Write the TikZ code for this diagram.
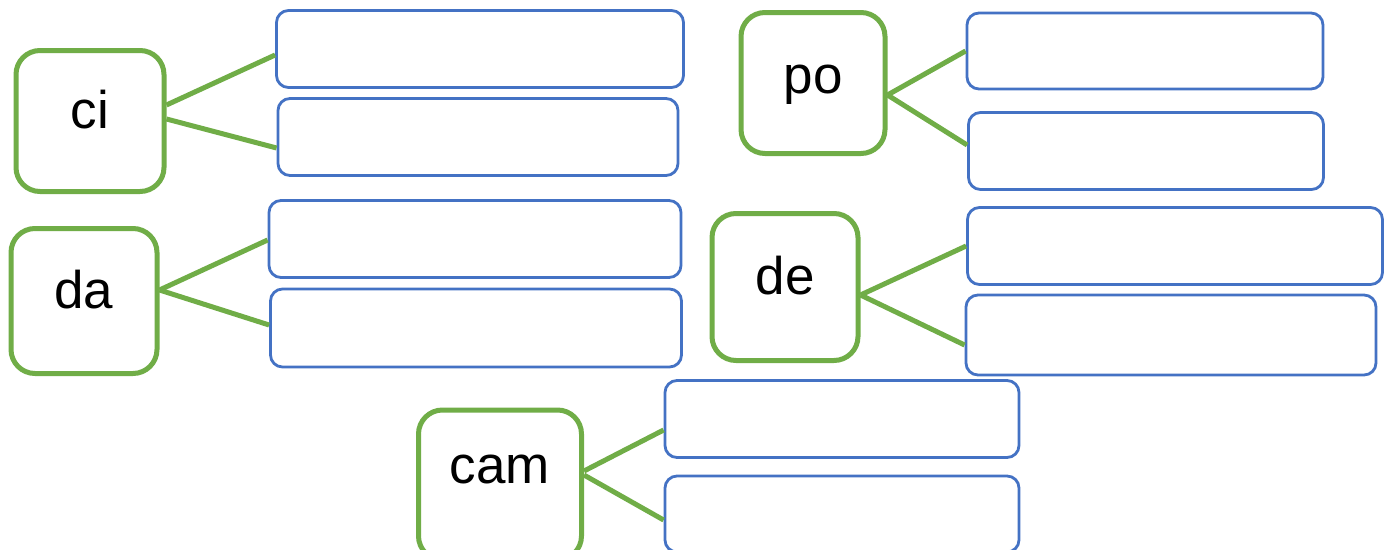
\documentclass[tikz,border=0pt]{standalone}
\usepackage{fontspec}
\setmainfont{Liberation Sans}
\definecolor{stemgreen}{RGB}{112,173,71}
\definecolor{slotblue}{RGB}{68,114,196}
\begin{document}
\begin{tikzpicture}[x=1pt,y=-1pt,
  stem/.style={draw=stemgreen,line width=5pt,rounded corners=24pt,fill=white,
    inner sep=0pt,text height=38pt,text depth=24pt,font=\fontsize{53}{53}\selectfont},
  slot/.style={draw=slotblue,line width=2.8pt,rounded corners=12pt,fill=white,inner sep=0pt},
  link/.style={draw=stemgreen,line width=5pt}]
\clip (0,0) rectangle (1391,549);
\useasboundingbox (0,0) rectangle (1391,549);

% syllable boxes
\node[stem,minimum width=148pt,minimum height=141pt] (ci)  at (90,121)  {ci};
\node[stem,minimum width=144pt,minimum height=141pt,text depth=18pt] (po)  at (813,83)  {po};
\node[stem,minimum width=146pt,minimum height=145pt] (da)  at (84,301)  {da};
\node[stem,minimum width=146pt,minimum height=147pt] (de)  at (785,287) {de};
\node[stem,minimum width=163pt,minimum height=150pt,text depth=42pt] (cam) at (500,485) {cam};

% empty answer slots
\node[slot,minimum width=407pt,minimum height=77pt] (ci1)  at (480,49)   {};
\node[slot,minimum width=400pt,minimum height=77pt] (ci2)  at (478,137)  {};
\node[slot,minimum width=356pt,minimum height=76pt] (po1)  at (1145,51)  {};
\node[slot,minimum width=355pt,minimum height=77pt] (po2)  at (1146,151) {};
\node[slot,minimum width=412pt,minimum height=77pt] (da1)  at (475,239)  {};
\node[slot,minimum width=411pt,minimum height=78pt] (da2)  at (476,328)  {};
\node[slot,minimum width=415pt,minimum height=77pt] (de1)  at (1175,246) {};
\node[slot,minimum width=410pt,minimum height=80pt] (de2)  at (1171,335) {};
\node[slot,minimum width=354pt,minimum height=77pt] (cam1) at (842,419)  {};
\node[slot,minimum width=354pt,minimum height=76pt] (cam2) at (842,514)  {};

% connectors (yshift is measured upwards)
\draw[link] ([yshift=16pt]ci.east) -- ([yshift=-6pt]ci1.west);
\draw[link] ([yshift=2pt]ci.east) -- ([yshift=-11pt]ci2.west);
\draw[link] ([yshift=-12pt]po.east) -- (po1.west);
\draw[link] ([yshift=-12pt]po.east) -- ([yshift=6pt]po2.west);
\draw[link] ([yshift=11pt]da.east) -- ([yshift=-1pt]da1.west);
\draw[link] ([yshift=11pt]da.east) -- ([yshift=3pt]da2.west);
\draw[link] ([yshift=-8pt]de.east) -- (de1.west);
\draw[link] ([yshift=-8pt]de.east) -- ([yshift=-10pt]de2.west);
\draw[link] ([yshift=14pt]cam.east) -- ([yshift=-11pt]cam1.west);
\draw[link] ([yshift=10pt]cam.east) -- ([yshift=-6pt]cam2.west);
\end{tikzpicture}
\end{document}
